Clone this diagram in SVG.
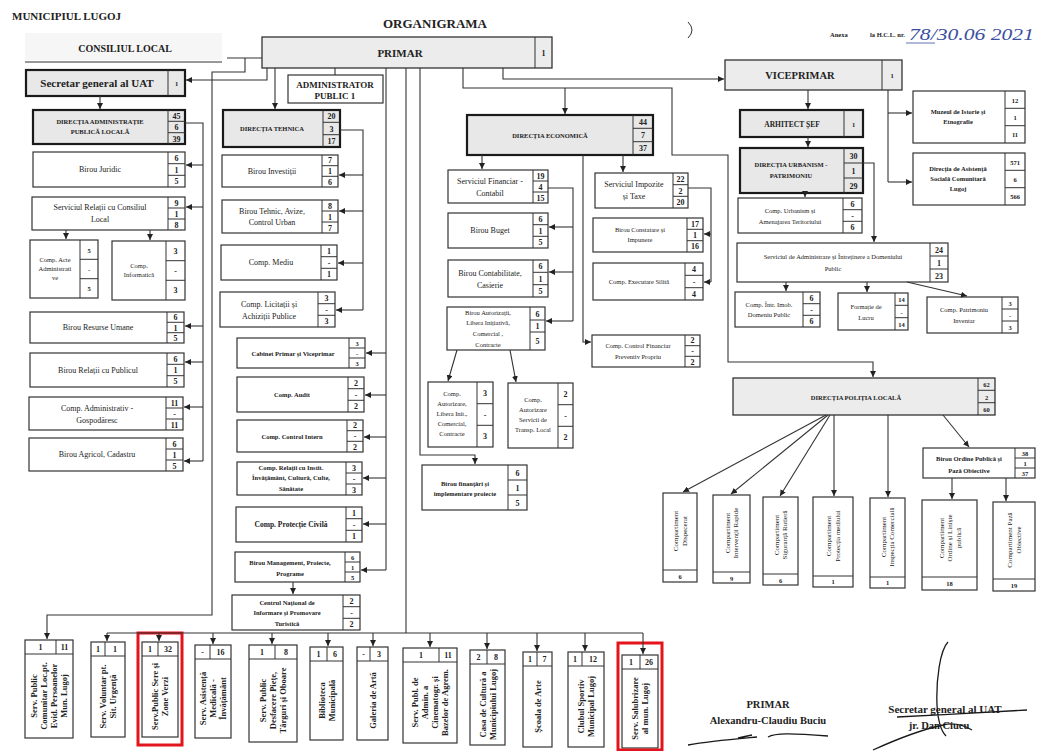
<svg xmlns="http://www.w3.org/2000/svg" width="1040" height="751" viewBox="0 0 1040 751">
<style>
text{font-family:"Liberation Serif","DejaVu Serif",serif;fill:#222}
.t{font-size:8px;text-anchor:middle}
.ts{font-size:6.5px;text-anchor:middle}
.tb{font-size:7.5px;font-weight:bold;text-anchor:middle}
.tbs{font-size:6.5px;font-weight:bold;text-anchor:middle}
.n{font-size:8px;font-weight:bold;text-anchor:middle}
.ns{font-size:6.5px;font-weight:bold;text-anchor:middle}
.v{font-size:8.5px;font-weight:bold;text-anchor:middle}
.pv{font-size:7px;text-anchor:middle}
.b{fill:#fff;stroke:#333;stroke-width:1.2}
.g{fill:#e8e8e8;stroke:#1a1a1a;stroke-width:2.2}
.gm{fill:#ececec;stroke:#333;stroke-width:1.3}
.c{fill:none;stroke:#333;stroke-width:1}
.l{fill:none;stroke:#333;stroke-width:1.1}
.la{fill:none;stroke:#333;stroke-width:1.1;marker-end:url(#a)}
.red{fill:none;stroke:#e3141b;stroke-width:3}
.sig{fill:none;stroke:#1a1a1a;stroke-width:1.3}
</style>
<defs>
<marker id="a" markerWidth="6" markerHeight="6" refX="6" refY="3" orient="auto" markerUnits="userSpaceOnUse"><path d="M0,0 L6,3 L0,6 z" fill="#222"/></marker>
<clipPath id="hc"><rect x="0" y="13" width="220" height="20"/></clipPath>
</defs>
<rect width="1040" height="751" fill="#fff"/>

<g id="header">
<text x="12" y="20" clip-path="url(#hc)" style="font-size:11px;font-weight:bold">MUNICIPIUL LUGOJ</text>
<text x="435" y="28" style="font-size:13px;font-weight:bold;text-anchor:middle">ORGANIGRAMA</text>
<path d="M688,22 Q696,30 688,38" class="c" stroke="#999"/>
<text x="830" y="37" style="font-size:6.5px;font-weight:bold">Anexa</text>
<text x="870" y="37" style="font-size:6.5px;font-weight:bold">la H.C.L. nr.</text>
<text x="909" y="40" style="font-size:17px;font-style:italic;fill:#3b4ea0" textLength="125" lengthAdjust="spacingAndGlyphs">78/30.06 2021</text>
<path d="M906,43 H935" stroke="#3b4ea0" stroke-width="0.8"/>
</g>

<g id="consiliul-local">
<rect x="25" y="33" width="197" height="27" fill="#f6f6f6"/>
<text x="125" y="52" style="font-size:10px;font-weight:bold;text-anchor:middle">CONSILIUL  LOCAL</text>
</g>

<g id="primar">
<rect x="262" y="37" width="290" height="31" class="gm"/>
<path d="M535,37 V68" class="c"/>
<text x="400" y="57" style="font-size:11px;font-weight:bold;text-anchor:middle">PRIMAR</text>
<text x="543.5" y="56" class="n">1</text>
</g>

<g id="secretar">
<rect x="26" y="70" width="159" height="26" class="g"/>
<path d="M168,70 V96" class="c"/>
<text x="97" y="87" style="font-size:11px;font-weight:bold;text-anchor:middle">Secretar general al UAT</text>
<text x="176.5" y="86" class="ns">1</text>
</g>

<g id="administrator">
<rect x="288" y="75" width="95" height="28" class="b"/>
<text x="335" y="88" style="font-size:9px;font-weight:bold;text-anchor:middle">ADMINISTRATOR</text>
<text x="335" y="99" style="font-size:9px;font-weight:bold;text-anchor:middle">PUBLIC  1</text>
</g>

<!-- DAPL column -->
<g id="dapl">
<rect x="33" y="110" width="152" height="34" class="g"/>
<path d="M168,110 V144 M168,121.3 H185 M168,132.7 H185" class="c"/>
<text x="100" y="124" class="tbs">DIRECȚIA ADMINISTRAȚIE</text>
<text x="100" y="134" class="tbs">PUBLICĂ LOCALĂ</text>
<text x="176.5" y="119" class="n">45</text><text x="176.5" y="130" class="n">6</text><text x="176.5" y="141.5" class="n">39</text>
</g>
<g id="birou-juridic">
<rect x="33" y="152" width="152" height="35" class="b"/>
<path d="M168,152 V187 M168,163.7 H185 M168,175.3 H185" class="c"/>
<text x="100" y="172" class="t">Birou  Juridic</text>
<text x="176.5" y="160.8" class="n">6</text><text x="176.5" y="172.5" class="n">1</text><text x="176.5" y="184.2" class="n">5</text>
</g>
<g id="serv-relatii-cl">
<rect x="32" y="197" width="153" height="33" class="b"/>
<path d="M168,197 V230 M168,208 H185 M168,219 H185" class="c"/>
<text x="100" y="210" class="t">Serviciul Relații cu Consiliul</text>
<text x="100" y="222" class="t">Local</text>
<text x="176.5" y="205.5" class="n">9</text><text x="176.5" y="216.5" class="n">1</text><text x="176.5" y="227.5" class="n">8</text>
</g>
<g id="comp-acte">
<rect x="30" y="240" width="68" height="58" class="b"/>
<path d="M80,240 V298 M80,259.3 H98 M80,278.7 H98" class="c"/>
<text x="55" y="262" class="ts">Comp. Acte</text>
<text x="55" y="271" class="ts">Administrati</text>
<text x="55" y="280" class="ts">ve</text>
<text x="89" y="252.7" class="ns">5</text><text x="89" y="272" class="ns">-</text><text x="89" y="291.3" class="ns">5</text>
</g>
<g id="comp-informatica">
<rect x="112" y="241" width="73" height="59" class="b"/>
<path d="M166,241 V300 M166,260.7 H185 M166,280.3 H185" class="c"/>
<text x="139" y="268" class="ts">Comp.</text>
<text x="139" y="277" class="ts">Informatică</text>
<text x="175.5" y="254" class="n">3</text><text x="175.5" y="273.5" class="n">-</text><text x="175.5" y="293" class="n">3</text>
</g>
<g id="birou-resurse">
<rect x="30" y="312" width="154" height="31" class="b"/>
<path d="M167,312 V343 M167,322.3 H184 M167,332.7 H184" class="c"/>
<text x="98" y="330" class="t">Birou Resurse Umane</text>
<text x="175.5" y="320" class="n">6</text><text x="175.5" y="330.5" class="n">1</text><text x="175.5" y="340.8" class="n">5</text>
</g>
<g id="birou-relatii-public">
<rect x="30" y="353" width="154" height="34" class="b"/>
<path d="M167,353 V387 M167,364.3 H184 M167,375.7 H184" class="c"/>
<text x="98" y="373" class="t">Birou Relații cu Publicul</text>
<text x="175.5" y="361.7" class="n">6</text><text x="175.5" y="373" class="n">1</text><text x="175.5" y="384.3" class="n">5</text>
</g>
<g id="comp-administrativ">
<rect x="29" y="397" width="154" height="33" class="b"/>
<path d="M166,397 V430 M166,408 H183 M166,419 H183" class="c"/>
<text x="97" y="411" class="t">Comp. Administrativ -</text>
<text x="97" y="423" class="t">Gospodăresc</text>
<text x="174.5" y="405.5" class="n">11</text><text x="174.5" y="416.5" class="n">-</text><text x="174.5" y="427.5" class="n">11</text>
</g>
<g id="birou-agricol">
<rect x="29" y="438" width="154" height="33" class="b"/>
<path d="M166,438 V471 M166,449 H183 M166,460 H183" class="c"/>
<text x="97" y="457" class="t">Birou Agricol, Cadastru</text>
<text x="174.5" y="446.5" class="n">6</text><text x="174.5" y="457.5" class="n">1</text><text x="174.5" y="468.5" class="n">5</text>
</g>

<!-- Directia tehnica column -->
<g id="directia-tehnica">
<rect x="223" y="110" width="117" height="37" class="g"/>
<path d="M323,110 V147 M323,122.3 H340 M323,134.7 H340" class="c"/>
<text x="272" y="131" class="tbs">DIRECȚIA TEHNICA</text>
<text x="331.5" y="119.2" class="n">20</text><text x="331.5" y="131.5" class="n">3</text><text x="331.5" y="143.8" class="n">17</text>
</g>
<g id="birou-investitii">
<rect x="222" y="155" width="116" height="32" class="b"/>
<path d="M322,155 V187 M322,165.7 H338 M322,176.3 H338" class="c"/>
<text x="272" y="174" class="t">Birou Investiții</text>
<text x="330" y="163.3" class="n">7</text><text x="330" y="174" class="n">1</text><text x="330" y="184.7" class="n">6</text>
</g>
<g id="birou-tehnic">
<rect x="222" y="200" width="116" height="33" class="b"/>
<path d="M322,200 V233 M322,211 H338 M322,222 H338" class="c"/>
<text x="272" y="214" class="t">Birou Tehnic, Avize,</text>
<text x="272" y="225" class="t">Control Urban</text>
<text x="330" y="208.5" class="n">8</text><text x="330" y="219.5" class="n">1</text><text x="330" y="230.5" class="n">7</text>
</g>
<g id="comp-mediu">
<rect x="221" y="245" width="116" height="35" class="b"/>
<path d="M321,245 V280 M321,256.7 H337 M321,268.3 H337" class="c"/>
<text x="271" y="265" class="t">Comp. Mediu</text>
<text x="329" y="253.8" class="n">1</text><text x="329" y="265.5" class="n">-</text><text x="329" y="277.2" class="n">1</text>
</g>
<g id="comp-licitatii">
<rect x="220" y="292" width="115" height="35" class="b"/>
<path d="M318,292 V327 M318,303.7 H335 M318,315.3 H335" class="c"/>
<text x="269" y="307" class="t">Comp. Licitații și</text>
<text x="269" y="319" class="t">Achiziții Publice</text>
<text x="326.5" y="300.8" class="n">3</text><text x="326.5" y="312.5" class="n">-</text><text x="326.5" y="324.2" class="n">3</text>
</g>
<g id="cabinet">
<rect x="237" y="338" width="128" height="30" class="b"/>
<path d="M349,338 V368 M349,348 H365 M349,358 H365" class="c"/>
<text x="293" y="356" class="tbs">Cabinet Primar și Viceprimar</text>
<text x="357" y="346" class="ns">3</text><text x="357" y="356" class="ns">-</text><text x="357" y="366" class="ns">3</text>
</g>
<g id="comp-audit">
<rect x="237" y="377" width="127" height="35" class="b"/>
<path d="M348,377 V412 M348,388.7 H364 M348,400.3 H364" class="c"/>
<text x="292" y="397" class="tbs">Comp. Audit</text>
<text x="356" y="385.8" class="n">2</text><text x="356" y="397.5" class="n">-</text><text x="356" y="409.2" class="n">2</text>
</g>
<g id="comp-control-intern">
<rect x="237" y="420" width="126" height="32" class="b"/>
<path d="M347,420 V452 M347,430.7 H363 M347,441.3 H363" class="c"/>
<text x="292" y="439" class="tbs">Comp. Control Intern</text>
<text x="355" y="428.3" class="n">2</text><text x="355" y="439" class="n">-</text><text x="355" y="449.7" class="n">2</text>
</g>
<g id="comp-relatii-instit">
<rect x="237" y="462" width="125" height="33" class="b"/>
<path d="M346,462 V495 M346,473 H362 M346,484 H362" class="c"/>
<text x="291" y="470" class="tbs">Comp. Relații cu Instit.</text>
<text x="291" y="480" class="tbs">Învățământ, Cultură, Culte,</text>
<text x="291" y="491" class="tbs">Sănătate</text>
<text x="354" y="470.5" class="n">3</text><text x="354" y="481.5" class="n">-</text><text x="354" y="492.5" class="n">3</text>
</g>
<g id="comp-protectie-civila">
<rect x="236" y="507" width="126" height="35" class="b"/>
<path d="M346,507 V542 M346,518.7 H362 M346,530.3 H362" class="c"/>
<text x="291" y="527" class="tb">Comp. Protecție Civilă</text>
<text x="354" y="515.8" class="n">1</text><text x="354" y="527.5" class="n">-</text><text x="354" y="539.2" class="n">1</text>
</g>
<g id="birou-management">
<rect x="235" y="552" width="125" height="30" class="b"/>
<path d="M345,552 V582 M345,562 H360 M345,572 H360" class="c"/>
<text x="290" y="565" class="tbs">Birou Management, Proiecte,</text>
<text x="290" y="576" class="tbs">Programe</text>
<text x="352.5" y="560" class="ns">6</text><text x="352.5" y="570" class="ns">1</text><text x="352.5" y="580" class="ns">5</text>
</g>
<g id="centrul-national">
<rect x="232" y="595" width="128" height="35" class="b"/>
<path d="M343,595 V630 M343,606.7 H360 M343,618.3 H360" class="c"/>
<text x="287" y="605" class="tbs">Centrul Național de</text>
<text x="287" y="615" class="tbs">Informare și Promovare</text>
<text x="287" y="626" class="tbs">Turistică</text>
<text x="351.5" y="603.8" class="n">2</text><text x="351.5" y="615.5" class="n">-</text><text x="351.5" y="627.2" class="n">2</text>
</g>

<!-- Economica -->
<g id="directia-economica">
<rect x="467" y="115" width="186" height="40" class="g"/>
<path d="M633,115 V155 M633,128.3 H653 M633,141.7 H653" class="c"/>
<text x="550" y="138" class="tbs">DIRECȚIA ECONOMICĂ</text>
<text x="643" y="124.7" class="n">44</text><text x="643" y="138" class="n">7</text><text x="643" y="151.3" class="n">37</text>
</g>
<g id="serv-financiar">
<rect x="448" y="170" width="100" height="33" class="b"/>
<path d="M533,170 V203 M533,181 H548 M533,192 H548" class="c"/>
<text x="490" y="184" class="t">Serviciul Financiar -</text>
<text x="490" y="196" class="t">Contabil</text>
<text x="540.5" y="178.5" class="n">19</text><text x="540.5" y="189.5" class="n">4</text><text x="540.5" y="200.5" class="n">15</text>
</g>
<g id="birou-buget">
<rect x="448" y="213" width="100" height="35" class="b"/>
<path d="M533,213 V248 M533,224.7 H548 M533,236.3 H548" class="c"/>
<text x="490" y="233" class="t">Birou Buget</text>
<text x="540.5" y="221.8" class="n">6</text><text x="540.5" y="233.5" class="n">1</text><text x="540.5" y="245.2" class="n">5</text>
</g>
<g id="birou-contabilitate">
<rect x="448" y="260" width="100" height="37" class="b"/>
<path d="M533,260 V297 M533,272.3 H548 M533,284.7 H548" class="c"/>
<text x="490" y="276" class="t">Birou Contabilitate,</text>
<text x="490" y="288" class="t">Casierie</text>
<text x="540.5" y="269.2" class="n">6</text><text x="540.5" y="281.5" class="n">1</text><text x="540.5" y="293.8" class="n">5</text>
</g>
<g id="birou-autorizatii">
<rect x="447" y="307" width="98" height="43" class="b"/>
<path d="M530,307 V350 M530,320 H545 M530,332 H545" class="c"/>
<text x="488" y="315" class="ts">Birou Autorizații,</text>
<text x="488" y="325" class="ts">Libera Inițiativă,</text>
<text x="488" y="336" class="ts">Comercial ,</text>
<text x="488" y="347" class="ts">Contracte</text>
<text x="537.5" y="316.5" class="n">6</text><text x="537.5" y="329" class="n">1</text><text x="537.5" y="344" class="n">5</text>
</g>
<g id="comp-autorizare-libera">
<rect x="428" y="382" width="65" height="65" class="b"/>
<path d="M477,382 V447 M477,403.7 H493 M477,425.3 H493" class="c"/>
<text x="452" y="396" class="ts">Comp.</text>
<text x="452" y="406" class="ts">Autorizare,</text>
<text x="452" y="416" class="ts">Libera Init.,</text>
<text x="452" y="426" class="ts">Comercial,</text>
<text x="452" y="436" class="ts">Contracte</text>
<text x="485" y="396" class="n">3</text><text x="485" y="417.5" class="n">-</text><text x="485" y="439" class="n">3</text>
</g>
<g id="comp-autorizare-transp">
<rect x="508" y="383" width="65" height="65" class="b"/>
<path d="M558,383 V448 M558,404.7 H573 M558,426.3 H573" class="c"/>
<text x="533" y="402" class="ts">Comp.</text>
<text x="533" y="412" class="ts">Autorizare</text>
<text x="533" y="422" class="ts">Servicii de</text>
<text x="533" y="432" class="ts">Transp. Local</text>
<text x="565.5" y="397" class="n">2</text><text x="565.5" y="418.5" class="n">-</text><text x="565.5" y="440" class="n">2</text>
</g>
<g id="birou-finantari">
<rect x="422" y="465" width="105" height="45" class="b"/>
<path d="M508,465 V510 M508,480 H527 M508,495 H527" class="c"/>
<text x="465" y="486" class="tbs">Birou finanțări și</text>
<text x="465" y="496" class="tbs">implementare proiecte</text>
<text x="517.5" y="475.5" class="n">6</text><text x="517.5" y="490.5" class="n">1</text><text x="517.5" y="505.5" class="n">5</text>
</g>
<g id="serv-impozite">
<rect x="595" y="173" width="93" height="35" class="b"/>
<path d="M673,173 V208 M673,184.7 H688 M673,196.3 H688" class="c"/>
<text x="634" y="187" class="t">Serviciul Impozite</text>
<text x="634" y="199" class="t">și Taxe</text>
<text x="680.5" y="181.8" class="n">22</text><text x="680.5" y="193.5" class="n">2</text><text x="680.5" y="205.2" class="n">20</text>
</g>
<g id="birou-constatare">
<rect x="593" y="218" width="110" height="34" class="b"/>
<path d="M687,218 V252 M687,229.3 H703 M687,240.7 H703" class="c"/>
<text x="640" y="232" class="ts">Birou Constatare și</text>
<text x="640" y="242" class="ts">Impunere</text>
<text x="695" y="226.7" class="n">17</text><text x="695" y="238" class="n">1</text><text x="695" y="249.3" class="n">16</text>
</g>
<g id="comp-executare">
<rect x="593" y="263" width="110" height="37" class="b"/>
<path d="M685,263 V300 M685,275.3 H703 M685,287.7 H703" class="c"/>
<text x="639" y="284" class="ts">Comp. Executare Silită</text>
<text x="694" y="272.2" class="n">4</text><text x="694" y="284.5" class="n">-</text><text x="694" y="296.8" class="n">4</text>
</g>
<g id="comp-control-financiar">
<rect x="592" y="335" width="108" height="32" class="b"/>
<path d="M685,335 V367 M685,345.7 H700 M685,356.3 H700" class="c"/>
<text x="638" y="348" class="ts">Comp. Control Financiar</text>
<text x="638" y="359" class="ts">Preventiv Propriu</text>
<text x="692.5" y="343.3" class="n">2</text><text x="692.5" y="354" class="n">-</text><text x="692.5" y="364.7" class="n">2</text>
</g>

<!-- Viceprimar -->
<g id="viceprimar">
<rect x="725" y="60" width="177" height="30" class="gm"/>
<path d="M882,60 V90" class="c"/>
<text x="800" y="79" style="font-size:10.5px;font-weight:bold;text-anchor:middle">VICEPRIMAR</text>
<text x="892" y="78" class="ns">1</text>
</g>
<g id="arhitect-sef">
<rect x="740" y="110" width="123" height="27" class="g"/>
<path d="M844,110 V137" class="c"/>
<text x="792" y="127" class="tb">ARHITECT ȘEF</text>
<text x="853.5" y="126.5" class="ns">1</text>
</g>
<g id="directia-urbanism">
<rect x="740" y="148" width="123" height="45" class="g"/>
<path d="M844,148 V193 M844,163 H863 M844,178 H863" class="c"/>
<text x="791" y="167" class="tbs">DIRECȚIA URBANISM -</text>
<text x="791" y="178" class="tbs">PATRIMONIU</text>
<text x="853.5" y="158.5" class="n">30</text><text x="853.5" y="173.5" class="n">1</text><text x="853.5" y="188.5" class="n">29</text>
</g>
<g id="muzeul">
<rect x="913" y="91" width="112" height="52" class="b"/>
<path d="M1005,91 V143 M1005,108.3 H1025 M1005,125.7 H1025" class="c"/>
<text x="958" y="114" class="tbs">Muzeul de Istorie și</text>
<text x="958" y="124" class="tbs">Etnografie</text>
<text x="1015" y="102.7" class="ns">12</text><text x="1015" y="120" class="ns">1</text><text x="1015" y="137.3" class="ns">11</text>
</g>
<g id="directia-asistenta">
<rect x="913" y="153" width="112" height="52" class="b"/>
<path d="M1005,153 V205 M1005,170.3 H1025 M1005,187.7 H1025" class="c"/>
<text x="958" y="171" class="tbs">Direcția de Asistență</text>
<text x="958" y="181" class="tbs">Socială Comunitară</text>
<text x="958" y="191" class="tbs">Lugoj</text>
<text x="1015" y="164.7" class="ns">571</text><text x="1015" y="182" class="ns">6</text><text x="1015" y="199.3" class="ns">566</text>
</g>
<g id="comp-urbanism">
<rect x="738" y="198" width="124" height="35" class="b"/>
<path d="M843,198 V233 M843,209.7 H862 M843,221.3 H862" class="c"/>
<text x="790" y="213" class="ts">Comp. Urbanism și</text>
<text x="790" y="224" class="ts">Amenajarea Teritoriului</text>
<text x="852.5" y="206.8" class="n">6</text><text x="852.5" y="218.5" class="n">-</text><text x="852.5" y="230.2" class="n">6</text>
</g>
<g id="serv-administrare-domeniu">
<rect x="737" y="243" width="211" height="39" class="b"/>
<path d="M930,243 V282 M930,256 H948 M930,269 H948" class="c"/>
<text x="833" y="259" class="ts">Serviciul  de Administrare și Întreținere a Domeniului</text>
<text x="833" y="271" class="ts">Public</text>
<text x="939" y="252.5" class="n">24</text><text x="939" y="265.5" class="n">1</text><text x="939" y="278.5" class="n">23</text>
</g>
<g id="comp-intr-imob">
<rect x="735" y="292" width="85" height="35" class="b"/>
<path d="M803,292 V327 M803,303.7 H820 M803,315.3 H820" class="c"/>
<text x="769" y="307" class="ts">Comp. Într. Imob.</text>
<text x="769" y="317" class="ts">Domeniu Public</text>
<text x="811.5" y="300.8" class="n">6</text><text x="811.5" y="312.5" class="n">-</text><text x="811.5" y="324.2" class="n">6</text>
</g>
<g id="formatie-lucru">
<rect x="838" y="293" width="70" height="37" class="b"/>
<path d="M895,293 V330 M895,305.3 H908 M895,317.7 H908" class="c"/>
<text x="866" y="309" class="ts">Formație de</text>
<text x="866" y="320" class="ts">Lucru</text>
<text x="901.5" y="302.2" class="ns">14</text><text x="901.5" y="314.5" class="ns">-</text><text x="901.5" y="326.8" class="ns">14</text>
</g>
<g id="comp-patrimoniu">
<rect x="927" y="297" width="91" height="36" class="b"/>
<path d="M1002,297 V333 M1002,309 H1018 M1002,321 H1018" class="c"/>
<text x="964" y="312" class="ts">Comp. Patrimoniu</text>
<text x="964" y="323" class="ts">Inventar</text>
<text x="1010" y="306" class="ns">3</text><text x="1010" y="318" class="ns">-</text><text x="1010" y="330" class="ns">3</text>
</g>

<!-- Politia locala -->
<g id="directia-politia">
<rect x="733" y="378" width="262" height="37" class="gm"/>
<path d="M978,378 V415 M978,390.3 H995 M978,402.7 H995" class="c"/>
<text x="856" y="400" class="tbs">DIRECȚIA POLIȚIA LOCALĂ</text>
<text x="986.5" y="387.2" class="ns">62</text><text x="986.5" y="399.5" class="ns">2</text><text x="986.5" y="411.8" class="ns">60</text>
</g>
<g id="birou-ordine">
<rect x="923" y="448" width="112" height="30" class="b"/>
<path d="M1015,448 V478 M1015,458 H1035 M1015,468 H1035" class="c"/>
<text x="969" y="461" class="tbs">Birou Ordine Publică și</text>
<text x="969" y="473" class="tbs">Pază Obiective</text>
<text x="1025" y="456" class="ns">38</text><text x="1025" y="466" class="ns">1</text><text x="1025" y="476" class="ns">37</text>
</g>
<g id="comp-dispecerat">
<rect x="663" y="493" width="34" height="89" class="b"/><path d="M663,570 H697" class="c"/>
<text transform="translate(680,531) rotate(-90)" class="pv"><tspan x="0" y="-1.8">Compartiment</tspan><tspan x="0" y="6.7">Dispecerat</tspan></text>
<text x="680" y="579" class="ns">6</text>
</g>
<g id="comp-interventii">
<rect x="713" y="495" width="37" height="88" class="b"/><path d="M713,572 H750" class="c"/>
<text transform="translate(731.5,533) rotate(-90)" class="pv"><tspan x="0" y="-1.8">Compartiment</tspan><tspan x="0" y="6.7">Intervenții Rapide</tspan></text>
<text x="731.5" y="580.5" class="ns">9</text>
</g>
<g id="comp-siguranta">
<rect x="763" y="497" width="35" height="88" class="b"/><path d="M763,574 H798" class="c"/>
<text transform="translate(780.5,535) rotate(-90)" class="pv"><tspan x="0" y="-1.8">Compartiment</tspan><tspan x="0" y="6.7">Siguranță Rutieră</tspan></text>
<text x="780.5" y="582.5" class="ns">6</text>
</g>
<g id="comp-protectia-mediului">
<rect x="813" y="497" width="40" height="90" class="b"/><path d="M813,576 H853" class="c"/>
<text transform="translate(833,536) rotate(-90)" class="pv"><tspan x="0" y="-1.8">Compartiment</tspan><tspan x="0" y="6.7">Protecția mediului</tspan></text>
<text x="833" y="584" class="ns">1</text>
</g>
<g id="comp-inspectia">
<rect x="870" y="498" width="35" height="90" class="b"/><path d="M870,577 H905" class="c"/>
<text transform="translate(887.5,537) rotate(-90)" class="pv"><tspan x="0" y="-1.8">Compartiment</tspan><tspan x="0" y="6.7">Inspecția Comercială</tspan></text>
<text x="887.5" y="585" class="ns">1</text>
</g>
<g id="comp-ordine-liniste">
<rect x="922" y="500" width="55" height="90" class="b"/><path d="M922,577 H977" class="c"/>
<text transform="translate(949.5,538) rotate(-90)" class="pv"><tspan x="0" y="-6">Compartiment</tspan><tspan x="0" y="2.5">Ordine și Liniște</tspan><tspan x="0" y="11">publică</tspan></text>
<text x="949.5" y="586" class="ns">18</text>
</g>
<g id="comp-paza">
<rect x="993" y="502" width="42" height="89" class="b"/><path d="M993,579 H1035" class="c"/>
<text transform="translate(1014,540) rotate(-90)" class="pv"><tspan x="0" y="-1.8">Compartiment Pază</tspan><tspan x="0" y="6.7">Obiective</tspan></text>
<text x="1014" y="588" class="ns">19</text>
</g>

<!-- Bottom row -->
<g id="serv-evidenta">
<rect x="25" y="640" width="48" height="98" class="b"/><path d="M25,654 H73 M56,640 V654" class="c"/>
<text x="40.5" y="650" class="n">1</text><text x="64.5" y="650" class="n">11</text>
<text transform="translate(49,696) rotate(-90)" class="v"><tspan x="0" y="-12">Serv. Public</tspan><tspan x="0" y="-2">Comunitar Loc.pt.</tspan><tspan x="0" y="8">Evid. Persoanelor</tspan><tspan x="0" y="18">Mun. Lugoj</tspan></text>
</g>
<g id="serv-voluntar">
<rect x="91" y="642" width="34" height="95" class="b"/><path d="M91,656 H125 M105,642 V656" class="c"/>
<text x="98" y="652" class="n">1</text><text x="115" y="652" class="n">1</text>
<text transform="translate(108,696.5) rotate(-90)" class="v"><tspan x="0" y="-2">Serv. Voluntar pt.</tspan><tspan x="0" y="8">Sit. Urgență</tspan></text>
</g>
<g id="serv-sere">
<rect x="142" y="642" width="36" height="95" class="b"/><path d="M142,656 H178 M158,642 V656" class="c"/>
<text x="150" y="652" class="n">1</text><text x="168" y="652" class="n">32</text>
<text transform="translate(160,696.5) rotate(-90)" class="v"><tspan x="0" y="-2">Serv.Public Sere și</tspan><tspan x="0" y="8">Zone Verzi</tspan></text>
</g>
<g id="serv-asistenta">
<rect x="195" y="645" width="36" height="93" class="b"/><path d="M195,659 H231 M210,645 V659" class="c"/>
<text x="202.5" y="655" class="n">-</text><text x="220.5" y="655" class="n">16</text>
<text transform="translate(213,698.5) rotate(-90)" class="v"><tspan x="0" y="-7">Serv. Asistență</tspan><tspan x="0" y="3">Medicală -</tspan><tspan x="0" y="13">Învățământ</tspan></text>
</g>
<g id="serv-piete">
<rect x="249" y="645" width="48" height="97" class="b"/><path d="M249,659 H297 M275,645 V659" class="c"/>
<text x="262" y="655" class="n">1</text><text x="286" y="655" class="n">8</text>
<text transform="translate(273,700.5) rotate(-90)" class="v"><tspan x="0" y="-7">Serv. Public</tspan><tspan x="0" y="3">Desfacere Piețe,</tspan><tspan x="0" y="13">Târguri și Oboare</tspan></text>
</g>
<g id="biblioteca">
<rect x="310" y="647" width="33" height="93" class="b"/><path d="M310,661 H343 M327,647 V661" class="c"/>
<text x="318.5" y="657" class="n">1</text><text x="335" y="657" class="n">6</text>
<text transform="translate(326.5,700.5) rotate(-90)" class="v"><tspan x="0" y="-2">Biblioteca</tspan><tspan x="0" y="8">Municipală</tspan></text>
</g>
<g id="galeria">
<rect x="357" y="647" width="31" height="93" class="b"/><path d="M357,661 H388 M370,647 V661" class="c"/>
<text x="363.5" y="657" class="n">-</text><text x="379" y="657" class="n">3</text>
<text transform="translate(372.5,700.5) rotate(-90)" class="v"><tspan x="0" y="3">Galeria de Artă</tspan></text>
</g>
<g id="serv-cinematografe">
<rect x="403" y="648" width="54" height="95" class="b"/><path d="M403,662 H457 M439,648 V662" class="c"/>
<text x="421" y="658" class="n">1</text><text x="448" y="658" class="n">11</text>
<text transform="translate(430,702.5) rotate(-90)" class="v"><tspan x="0" y="-12">Serv. Publ. de</tspan><tspan x="0" y="-2">Admin. a</tspan><tspan x="0" y="8">Cinematogr. și</tspan><tspan x="0" y="18">Bazelor de Agrem.</tspan></text>
</g>
<g id="casa-cultura">
<rect x="470" y="650" width="35" height="95" class="b"/><path d="M470,664 H505 M487,650 V664" class="c"/>
<text x="478.5" y="660" class="n">2</text><text x="496" y="660" class="n">8</text>
<text transform="translate(487.5,704.5) rotate(-90)" class="v"><tspan x="0" y="-2">Casa de Cultură a</tspan><tspan x="0" y="8">Municipiului Lugoj</tspan></text>
</g>
<g id="scoala-arte">
<rect x="523" y="652" width="29" height="95" class="b"/><path d="M523,666 H552 M537,652 V666" class="c"/>
<text x="530" y="662" class="n">1</text><text x="544.5" y="662" class="n">7</text>
<text transform="translate(537.5,706.5) rotate(-90)" class="v"><tspan x="0" y="3">Școala de Arte</tspan></text>
</g>
<g id="clubul-sportiv">
<rect x="568" y="652" width="36" height="95" class="b"/><path d="M568,666 H604 M582,652 V666" class="c"/>
<text x="575" y="662" class="n">1</text><text x="593" y="662" class="n">12</text>
<text transform="translate(586,706.5) rotate(-90)" class="v"><tspan x="0" y="-2">Clubul Sportiv</tspan><tspan x="0" y="8">Municipal Lugoj</tspan></text>
</g>
<g id="serv-salubrizare">
<rect x="622" y="655" width="36" height="93" class="b"/><path d="M622,669 H658 M640,655 V669" class="c"/>
<text x="631" y="665" class="n">1</text><text x="649" y="665" class="n">26</text>
<text transform="translate(640,708.5) rotate(-90)" class="v"><tspan x="0" y="-2">Serv. Salubrizare</tspan><tspan x="0" y="8">al mun. Lugoj</tspan></text>
</g>

<g id="highlights">
<rect x="138" y="633" width="44" height="112" class="red"/>
<rect x="618" y="643" width="44" height="107" class="red"/>
</g>

<g id="connectors">
<path d="M25,62 H222" class="l"/>
<path d="M227,58 H262" class="l"/>
<path d="M245,58 V72 H212 V615 H47 V639" class="la"/>
<path d="M267,68 V80 H186" class="la"/>
<path d="M275,68 V109" class="la"/>
<path d="M335,68 V75" class="l"/>
<path d="M100,96 V109" class="la"/>
<path d="M185,123 H203 V461" class="l"/>
<path d="M203,165 H186" class="la"/>
<path d="M203,207 H186" class="la"/>
<path d="M203,326 H185" class="la"/>
<path d="M203,362 H185" class="la"/>
<path d="M203,407 H184" class="la"/>
<path d="M203,461 H184" class="la"/>
<path d="M66,230 V239" class="la"/>
<path d="M150,230 V240" class="la"/>
<path d="M340,130 H363 V310" class="l"/>
<path d="M363,175 H339" class="la"/>
<path d="M363,211 H339" class="la"/>
<path d="M363,263 H338" class="la"/>
<path d="M363,310 H336" class="la"/>
<path d="M386,68 V570" class="l"/>
<path d="M386,353 H366" class="la"/>
<path d="M386,395 H365" class="la"/>
<path d="M386,437 H364" class="la"/>
<path d="M386,478 H363" class="la"/>
<path d="M386,524 H363" class="la"/>
<path d="M386,570 H361" class="la"/>
<path d="M293,582 V594" class="la"/>
<path d="M406,68 V633" class="l"/>
<path d="M107,633 H643" class="l"/>
<path d="M107,633 V641" class="la"/>
<path d="M159,633 V641" class="la"/>
<path d="M213,633 V644" class="la"/>
<path d="M272,633 V644" class="la"/>
<path d="M328,633 V646" class="la"/>
<path d="M373,633 V646" class="la"/>
<path d="M430,633 V647" class="la"/>
<path d="M487,633 V649" class="la"/>
<path d="M537,633 V651" class="la"/>
<path d="M585,633 V651" class="la"/>
<path d="M643,633 V654" class="la"/>
<path d="M420,68 V455 H475 V464" class="la"/>
<path d="M463,68 V88 H672 V155 H728 V362 H873 V377" class="la"/>
<path d="M565,88 V114" class="la"/>
<path d="M503,68 V79 H724" class="la"/>
<path d="M482,155 V169" class="la"/>
<path d="M623,155 V172" class="la"/>
<path d="M583,155 V342 H591" class="la"/>
<path d="M548,188 H573 V321" class="l"/>
<path d="M573,227 H549" class="la"/>
<path d="M573,272 H549" class="la"/>
<path d="M573,321 H546" class="la"/>
<path d="M457,350 L448,381" class="la"/>
<path d="M510,350 L516,382" class="la"/>
<path d="M688,188 H711 V282" class="l"/>
<path d="M711,234 H704" class="la"/>
<path d="M711,282 H704" class="la"/>
<path d="M808,90 V109" class="la"/>
<path d="M808,137 V147" class="la"/>
<path d="M805,193 V197" class="la"/>
<path d="M888,90 V182" class="l"/>
<path d="M888,113 H912" class="la"/>
<path d="M888,182 H912" class="la"/>
<path d="M863,163 H874 V242" class="la"/>
<path d="M786,282 V291" class="la"/>
<path d="M867,282 V292" class="la"/>
<path d="M907,282 L967,296" class="la"/>
<path d="M826,415 L683,492" class="la"/>
<path d="M828,415 L731,494" class="la"/>
<path d="M830,415 L780,496" class="la"/>
<path d="M834,415 V496" class="la"/>
<path d="M888,415 V497" class="la"/>
<path d="M943,415 L969,447" class="la"/>
<path d="M952,478 V499" class="la"/>
<path d="M1006,478 V501" class="la"/>
</g>

<g id="signatures">
<text x="768" y="708" style="font-size:10.5px;font-weight:bold;text-anchor:middle">PRIMAR</text>
<text x="768" y="724" style="font-size:10.5px;font-weight:bold;text-anchor:middle">Alexandru-Claudiu Buciu</text>
<path d="M688,745 C710,741 735,739 757,737 M738,738 L752,735 M768,737 C775,733 790,733 828,736" class="sig"/>
<text x="945" y="713" style="font-size:11px;font-weight:bold;text-anchor:middle">Secretar general al UAT</text>
<text x="939" y="729" style="font-size:10.5px;font-weight:bold;text-anchor:middle">jr. Dan Ciucu</text>
<path d="M948,642 C940,650 936,680 937,705 C938,722 942,732 946,736 M897,717 C940,715 990,712 1027,710 M873,750 C895,740 920,730 943,725 C955,722 965,726 972,730" class="sig"/>
</g>
</svg>
